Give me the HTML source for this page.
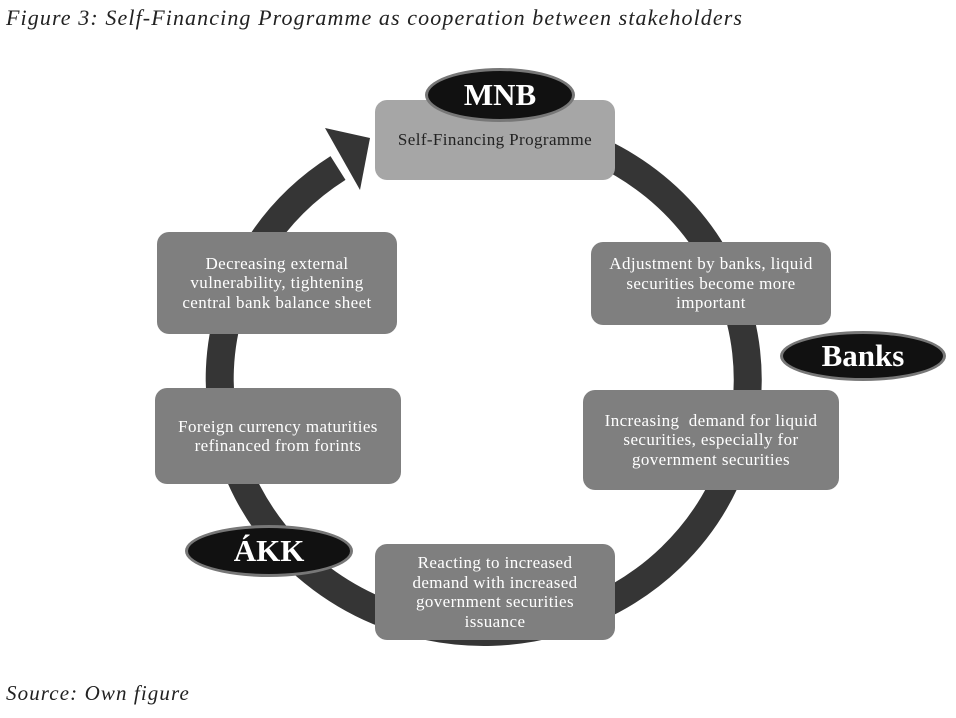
<!DOCTYPE html>
<html><head><meta charset="utf-8"><style>
body{margin:0;background:#fff;width:956px;height:718px;overflow:hidden;font-family:"Liberation Serif",serif}
.t{position:absolute;font-style:italic;font-size:22px;letter-spacing:1.1px;color:#222;white-space:nowrap}
.b{position:absolute;border-radius:12px;display:flex;align-items:center;justify-content:center;text-align:center;color:#fff;font-size:17px;letter-spacing:0.4px;line-height:19.5px;box-sizing:border-box;padding:0 12px}
.e{position:absolute;border-radius:50%;background:#111;border:3px solid #777;box-sizing:border-box;color:#fff;font-weight:bold;font-size:31px;display:flex;align-items:center;justify-content:center}
</style></head><body>
<div class="t" style="left:6px;top:5px">Figure 3: Self-Financing Programme as cooperation between stakeholders</div>
<svg width="956" height="718" style="position:absolute;left:0;top:0">
<path d="M487 126 A264 253 0 1 1 338 168" fill="none" stroke="#353535" stroke-width="28"/>
<polygon points="325,128 370,138 360,190" fill="#353535"/>
</svg>
<div class="b" style="left:375px;top:100px;width:240px;height:80px;background:#a6a6a6;color:#222">Self-Financing Programme</div>
<div class="e" style="left:425px;top:68px;width:150px;height:54px">MNB</div>
<div class="b" style="left:157px;top:232px;width:240px;height:102px;background:#7f7f7f;padding:0 18px">Decreasing external vulnerability, tightening central bank balance sheet</div>
<div class="b" style="left:591px;top:242px;width:240px;height:83px;background:#7f7f7f">Adjustment by banks, liquid securities become more important</div>
<div class="e" style="left:780px;top:331px;width:166px;height:50px">Banks</div>
<div class="b" style="left:583px;top:390px;width:256px;height:100px;background:#7f7f7f;padding:0 8px">Increasing&nbsp; demand for liquid securities, especially for government securities</div>
<div class="b" style="left:155px;top:388px;width:246px;height:96px;background:#7f7f7f;padding:0 8px">Foreign currency maturities refinanced from forints</div>
<div class="e" style="left:185px;top:525px;width:168px;height:52px">ÁKK</div>
<div class="b" style="left:375px;top:544px;width:240px;height:96px;background:#7f7f7f;padding:0 22px">Reacting to increased demand with increased government securities issuance</div>
<div class="t" style="left:6px;top:681px;font-size:21px">Source: Own figure</div>
</body></html>
